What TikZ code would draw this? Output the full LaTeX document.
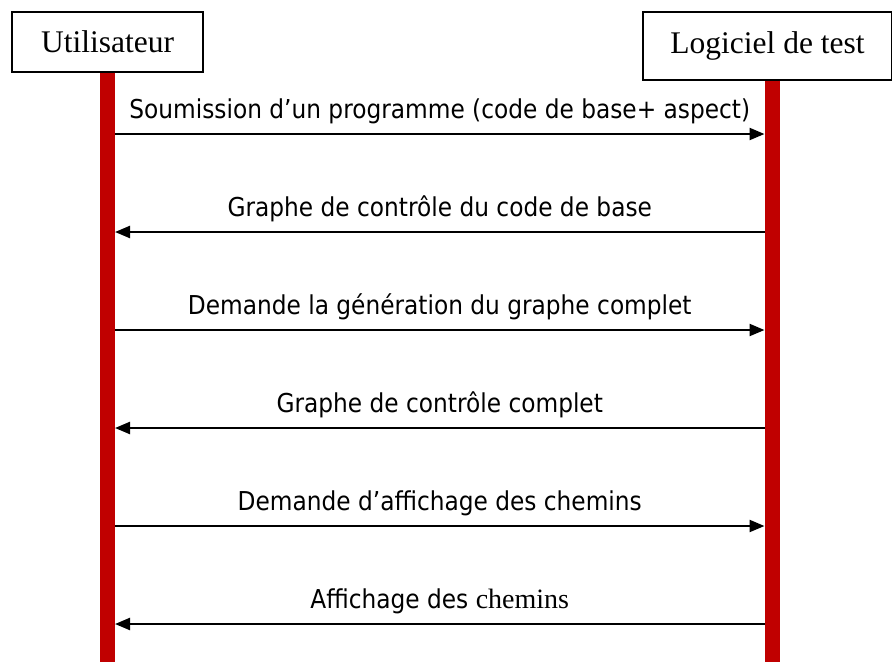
\documentclass[tikz,border=0pt]{standalone}
\usepackage{fontspec}
\setmainfont{Liberation Serif}
\newfontfamily\labfont{DejaVu Sans}[FakeStretch=0.895]
\usetikzlibrary{arrows.meta,calc}
\definecolor{lifered}{HTML}{C00000}
\begin{document}
\begin{tikzpicture}[x=1pt,y=-1pt,
  actor/.style={draw=black,line width=1.2pt,fill=white,inner sep=0pt,font=\fontsize{31.5}{31.5}\selectfont},
  lifeline/.style={draw=lifered,line width=15pt},
  msg/.style={line width=2.3pt,-{Triangle[length=15pt,width=12pt]}},
  lab/.style={anchor=base,inner sep=0pt,font=\labfont\fontsize{26}{26}\selectfont}]
\useasboundingbox (0,0) rectangle (892,662);
\node[actor,minimum width=191pt,minimum height=60pt] (user) at (107.5,42) {Utilisateur};
\node[actor,minimum width=249pt,minimum height=68pt] (soft) at (767.5,46) {Logiciel de test};
\coordinate (ubot) at (107.5,662);
\coordinate (sbot) at (772,662);
\draw[lifeline] (user.south) -- (ubot);
\draw[lifeline] (soft.south -| sbot) -- (sbot);
\foreach \i/\y in {1/134,2/232,3/330,4/428,5/526,6/624}{
  \coordinate (u\i) at (115,\y);
  \coordinate (s\i) at (764.5,\y);
}
\draw[msg] (u1) -- (s1);
\draw[msg] (s2) -- (u2);
\draw[msg] (u3) -- (s3);
\draw[msg] (s4) -- (u4);
\draw[msg] (u5) -- (s5);
\draw[msg] (s6) -- (u6);
\node[lab] (l1) at ($(u1)!0.5!(s1)+(0,-16)$) {Soumission d’un programme (code de base+ aspect)};
\node[lab] (l2) at ($(u2)!0.5!(s2)+(0,-16)$) {Graphe de contrôle du code de base};
\node[lab] (l3) at ($(u3)!0.5!(s3)+(0,-16)$) {Demande la génération du graphe complet};
\node[lab] (l4) at ($(u4)!0.5!(s4)+(0,-16)$) {Graphe de contrôle complet};
\node[lab] (l5) at ($(u5)!0.5!(s5)+(0,-16)$) {Demande d’affichage des chemins};
\node[lab] (l6) at ($(u6)!0.5!(s6)+(0,-16)$) {Affichage des {\rmfamily\fontsize{28}{28}\selectfont chemins}};
\end{tikzpicture}
\end{document}
